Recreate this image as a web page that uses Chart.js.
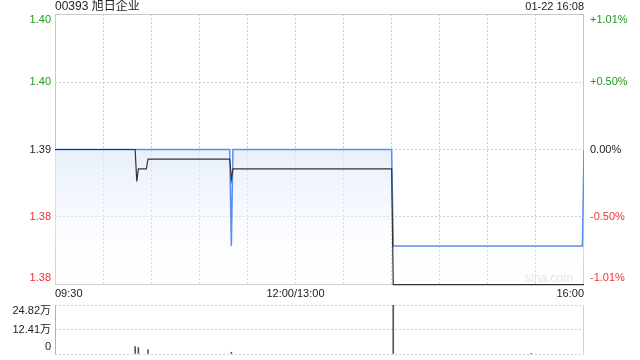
<!DOCTYPE html>
<html>
<head>
<meta charset="utf-8">
<script src="https://cdn.jsdelivr.net/npm/chart.js@4/dist/chart.umd.min.js"></script>
<style>
  html, body { margin: 0; padding: 0; background: #fff; }
  #wrap { position: relative; width: 640px; height: 360px; }
  canvas { position: absolute; left: 0; }
  #priceChart { top: 0; }
  #volChart { top: 300px; }
</style>
</head>
<body>
<div id="wrap">
  <canvas id="priceChart" width="640" height="300"></canvas>
  <canvas id="volChart" width="640" height="60"></canvas>
</div>
<script>
// --- data ---
const stockTitle = '00393 旭日企业';
const stampText = '01-22 16:08';
const prevClose = 1.39;
const pctTicks = [1.01, 0.50, 0.00, -0.50, -1.01];
const priceLabels = ['1.40', '1.40', '1.39', '1.38', '1.38'];
const pctLabels = ['+1.01%', '+0.50%', '0.00%', '-0.50%', '-1.01%'];
const timeTicks = [0, 150, 330];           // minutes from 09:30 (lunch removed)
const timeLabels = ['09:30', '12:00/13:00', '16:00'];

const priceMinutes = [0, 109, 110, 111, 210, 211, 329, 330];
const priceValues  = [1.39, 1.39, 1.38, 1.39, 1.39, 1.38, 1.38, 1.39];
const avgMinutes = [0, 50, 51, 52, 57, 58, 109, 110, 111, 210, 211, 330];
const avgValues  = [1.39, 1.39, 1.3867, 1.388, 1.388, 1.389, 1.389, 1.3869, 1.388, 1.388, 1.376, 1.376];

const volMinutes = [50, 52, 58, 110, 211, 297, 330];
const volValues  = [3.8, 3.3, 2.1, 0.9, 24.82, 0.3, 8.9];   // 万
const volTicks = [0, 12.41, 24.82];
const volLabels = ['0', '12.41万', '24.82万'];

const FONT = 'Arial, "Liberation Sans", "Noto Sans CJK SC", sans-serif';
const GRID = '#cfcfcf';
const UP = '#1f9a1f', DOWN = '#f03030', TEXT = '#222';

const priceTickValues = pctTicks.map(p => prevClose * (1 + p / 100));
const pair = (xs, ys) => xs.map((x, i) => ({ x: x, y: ys[i] }));

function labelY(px, area) {
  return Math.min(Math.max(px, area.top + 6), area.bottom - 7);
}

// price panel
const pricePlugin = {
  id: 'priceDecor',
  beforeDatasetsDraw(chart) {
    const ctx = chart.ctx, a = chart.chartArea;
    ctx.save();
    ctx.strokeStyle = '#c8c8c8';
    ctx.lineWidth = 1;
    ctx.strokeRect(a.left + 0.5, a.top + 0.5, a.right - a.left - 1, a.bottom - a.top - 1);
    ctx.fillStyle = '#dcdcdc';
    ctx.font = '12px ' + FONT;
    ctx.textAlign = 'right';
    ctx.textBaseline = 'middle';
    ctx.fillText('sina.com', a.right - 11, a.bottom - 6);
    ctx.restore();
  },
  afterDraw(chart) {
    const ctx = chart.ctx, a = chart.chartArea;
    const ys = chart.scales.y, xs = chart.scales.x;
    ctx.save();
    ctx.font = '11px ' + FONT;
    ctx.textBaseline = 'middle';
    priceTickValues.forEach((v, i) => {
      const y = labelY(ys.getPixelForValue(v), a);
      const p = pctTicks[i];
      ctx.fillStyle = p > 0 ? UP : (p < 0 ? DOWN : TEXT);
      ctx.textAlign = 'right';
      ctx.fillText(priceLabels[i], a.left - 4, y);
      ctx.textAlign = 'left';
      ctx.fillText(pctLabels[i], a.right + 6, y);
    });

    ctx.fillStyle = TEXT;
    timeTicks.forEach((t, i) => {
      const x = xs.getPixelForValue(t);
      ctx.textAlign = i === 0 ? 'left' : (i === timeTicks.length - 1 ? 'right' : 'center');
      ctx.fillText(timeLabels[i], x, a.bottom + 9);
    });

    ctx.font = '12px ' + FONT;
    ctx.textAlign = 'left';
    ctx.fillText(stockTitle, a.left, 7);
    ctx.font = '11px ' + FONT;
    ctx.textAlign = 'right';
    ctx.fillText(stampText, a.right, 7);
    ctx.restore();
  }
};

new Chart(document.getElementById('priceChart'), {
  type: 'line',
  data: {
    datasets: [{
      label: 'avg',
      data: pair(avgMinutes, avgValues),
      borderColor: '#333',
      borderWidth: 1.2,
      pointRadius: 0,
      fill: false,
      tension: 0,
      clip: 3,
      order: 1
    }, {
      label: 'price',
      data: pair(priceMinutes, priceValues),
      borderColor: '#5a8ff0',
      borderWidth: 1.5,
      pointRadius: 0,
      tension: 0,
      fill: 'start',
      backgroundColor: function (c) {
        const a = c.chart.chartArea;
        if (!a) return 'rgba(220,230,250,0.5)';
        const g = c.chart.ctx.createLinearGradient(0, a.top, 0, a.bottom);
        g.addColorStop(0, 'rgba(200,216,246,0.7)');
        g.addColorStop(0.5, 'rgba(222,232,250,0.7)');
        g.addColorStop(1, 'rgba(255,255,255,0.2)');
        return g;
      },
      order: 2
    }]
  },
  options: {
    responsive: false,
    animation: false,
    events: [],
    layout: { padding: { left: 55, right: 56, top: 14, bottom: 15 } },
    plugins: { legend: { display: false }, tooltip: { enabled: false } },
    scales: {
      x: {
        type: 'linear', min: 0, max: 330,
        ticks: { display: false, stepSize: 30 },
        afterBuildTicks: s => { s.ticks = []; for (let m = 30; m < 330; m += 30) s.ticks.push({ value: m }); },
        grid: { color: GRID, drawTicks: false },
        border: { display: false, dash: [2, 2] },
        afterFit: s => { s.height = 0; }
      },
      y: {
        min: priceTickValues[4], max: priceTickValues[0],
        ticks: { display: false },
        afterBuildTicks: s => { s.ticks = priceTickValues.slice(1, 4).map(v => ({ value: v })); },
        grid: { color: GRID, drawTicks: false },
        border: { display: false, dash: [2, 2] },
        afterFit: s => { s.width = 0; }
      }
    }
  },
  plugins: [pricePlugin]
});

// volume panel
const volPlugin = {
  id: 'volDecor',
  afterDraw(chart) {
    const ctx = chart.ctx, a = chart.chartArea, ys = chart.scales.y;
    ctx.save();
    ctx.lineWidth = 1;
    ctx.strokeStyle = '#b0b0b0';
    ctx.beginPath();
    ctx.moveTo(a.left + 0.5, a.top); ctx.lineTo(a.left + 0.5, a.bottom);
    ctx.stroke();
    ctx.strokeStyle = '#d0d0d0';
    ctx.beginPath();
    ctx.moveTo(a.right - 0.5, a.top); ctx.lineTo(a.right - 0.5, a.bottom);
    ctx.stroke();
    ctx.font = '11px ' + FONT;
    ctx.fillStyle = TEXT;
    ctx.textAlign = 'right';
    ctx.textBaseline = 'middle';
    volTicks.forEach((v, i) => {
      ctx.fillText(volLabels[i], a.left - 4, labelY(ys.getPixelForValue(v), a));
    });
    ctx.restore();
  }
};

new Chart(document.getElementById('volChart'), {
  type: 'bar',
  data: {
    datasets: [{
      data: pair(volMinutes, volValues),
      backgroundColor: '#555',
      barThickness: 1,
      borderWidth: 0
    }]
  },
  options: {
    responsive: false,
    animation: false,
    events: [],
    layout: { padding: { left: 55, right: 56, top: 5, bottom: 6 } },
    plugins: { legend: { display: false }, tooltip: { enabled: false } },
    scales: {
      x: {
        type: 'linear', min: 0, max: 330, offset: false,
        ticks: { display: false },
        grid: { display: false },
        border: { display: false },
        afterFit: s => { s.height = 0; }
      },
      y: {
        min: 0, max: volTicks[2],
        ticks: { display: false },
        afterBuildTicks: s => { s.ticks = volTicks.map(v => ({ value: v })); },
        grid: { color: GRID, drawTicks: false },
        border: { display: false, dash: [2, 2] },
        afterFit: s => { s.width = 0; }
      }
    }
  },
  plugins: [volPlugin]
});
</script>
</body>
</html>
